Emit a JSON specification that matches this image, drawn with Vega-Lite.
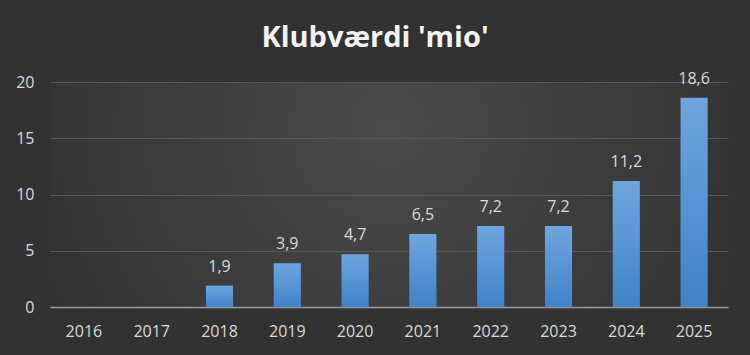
{
  "$schema": "https://vega.github.io/schema/vega-lite/v6.json",
  "width": 678,
  "height": 225,
  "autosize": {"type": "none"},
  "padding": {"left": 50, "top": 82, "right": 22, "bottom": 48},
  "background": "#323232",
  "title": {
    "text": "Klubværdi 'mio'",
    "anchor": "middle",
    "frame": "group",
    "dx": -14,
    "offset": 18,
    "font": "Open Sans",
    "fontSize": 29,
    "fontWeight": "bold",
    "color": "#f2f2f2"
  },
  "config": {
    "locale": {"number": {"decimal": ",", "thousands": ".", "grouping": [3], "currency": ["", " kr"]}},
    "view": {
      "stroke": null,
      "fill": {
        "gradient": "radial",
        "x1": 0.5, "y1": 0.4, "r1": 0,
        "x2": 0.5, "y2": 0.4, "r2": 0.62,
        "stops": [
          {"offset": 0, "color": "#4a4a4a"},
          {"offset": 1, "color": "#2f2f2f"}
        ]
      }
    },
    "axis": {
      "labelFont": "Open Sans",
      "labelFontSize": 16,
      "labelColor": "#d9d9d9",
      "ticks": false,
      "title": null
    }
  },
  "data": {
    "values": [
      {"year": "2016", "value": null},
      {"year": "2017", "value": null},
      {"year": "2018", "value": 1.9},
      {"year": "2019", "value": 3.9},
      {"year": "2020", "value": 4.7},
      {"year": "2021", "value": 6.5},
      {"year": "2022", "value": 7.2},
      {"year": "2023", "value": 7.2},
      {"year": "2024", "value": 11.2},
      {"year": "2025", "value": 18.6}
    ]
  },
  "encoding": {
    "x": {
      "field": "year",
      "type": "nominal",
      "scale": {"domain": ["2016", "2017", "2018", "2019", "2020", "2021", "2022", "2023", "2024", "2025"], "paddingInner": 0.6, "paddingOuter": 0.3},
      "axis": {"labelAngle": 0, "labelPadding": 16, "domainColor": "#9a9a9a", "domainWidth": 1.5, "grid": false}
    },
    "y": {
      "field": "value",
      "type": "quantitative",
      "scale": {"domain": [0, 20]},
      "axis": {"values": [0, 5, 10, 15, 20], "domain": false, "grid": true, "gridColor": "#585858", "gridWidth": 1, "labelPadding": 16}
    }
  },
  "layer": [
    {
      "mark": {
        "type": "bar",
        "color": {
          "gradient": "linear",
          "x1": 0, "y1": 0, "x2": 0, "y2": 1,
          "stops": [
            {"offset": 0, "color": "#6fa5de"},
            {"offset": 1, "color": "#3f83c9"}
          ]
        }
      }
    },
    {
      "mark": {"type": "text", "baseline": "alphabetic", "dy": -14, "font": "Open Sans", "fontSize": 16, "color": "#d9d9d9"},
      "encoding": {
        "text": {"field": "value", "type": "quantitative", "format": ".1f"}
      }
    }
  ]
}
